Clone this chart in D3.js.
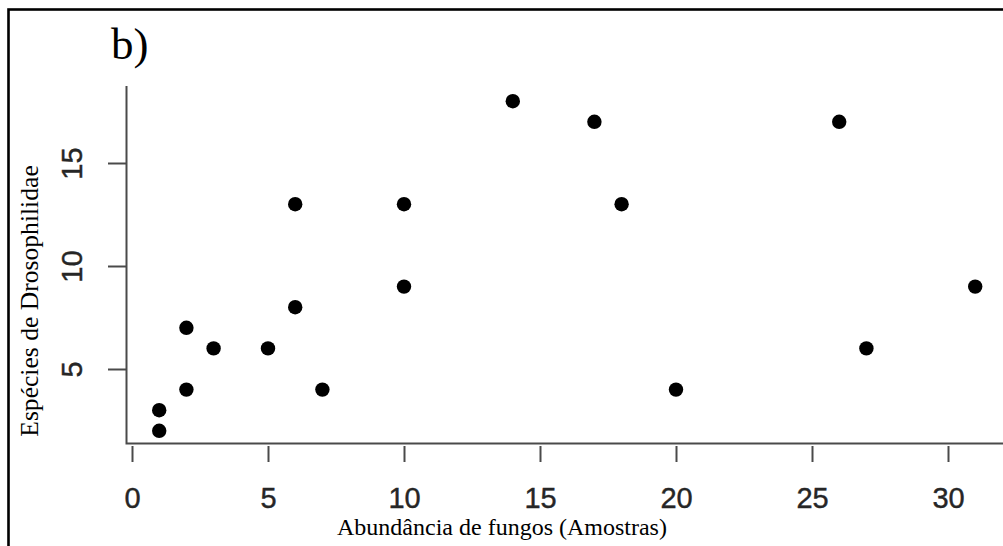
<!DOCTYPE html>
<html>
<head>
<meta charset="utf-8">
<script src="https://cdn.jsdelivr.net/npm/d3@7"></script>
<style>
  html, body { margin: 0; padding: 0; background: #fff; }
  svg { display: block; }
</style>
</head>
<body>
<svg id="chart" width="1003" height="546"></svg>
<script>
// Fungal abundance (samples) vs. number of Drosophilidae species
const fungos   = [1, 1, 2, 2, 3, 5, 6, 6, 7, 10, 10, 14, 17, 18, 20, 26, 27, 31];
const especies = [3, 2, 7, 4, 6, 6, 13, 8, 4, 13, 9, 18, 17, 13, 4, 17, 6, 9];
const xTicks = [0, 5, 10, 15, 20, 25, 30];
const yTicks = [5, 10, 15];
const panelLabel = "b)";
const xTitle = "Abundância de fungos (Amostras)";
const yTitle = "Espécies de Drosophilidae";

const svg = d3.select("#chart");
const x = d3.scaleLinear().domain([0, 30]).range([132, 948]);
const y = d3.scaleLinear().domain([5, 15]).range([369, 163]);

const axisColor = "#4a4a4a";
const serif = "'Liberation Serif', 'Times New Roman', serif";
const sans = "'Liberation Sans', Arial, sans-serif";

// outer frame of the panel
svg.append("rect")
  .attr("x", 8.5).attr("y", 9.5)
  .attr("width", 1100).attr("height", 700)
  .attr("fill", "none").attr("stroke", "#000").attr("stroke-width", 2.6);

// L-shaped plot box
svg.append("path")
  .attr("d", `M126.5,86 V443.5 H1003`)
  .attr("fill", "none").attr("stroke", axisColor).attr("stroke-width", 2);

// x axis: ticks hanging below the box line
const xAxis = d3.axisBottom(x).tickValues(xTicks).tickSize(16).tickPadding(22).tickFormat(d3.format("d"));
const gx = svg.append("g").attr("transform", "translate(0,446)").call(xAxis);
gx.select(".domain").remove();
gx.selectAll(".tick line").attr("stroke", axisColor).attr("stroke-width", 2);
gx.selectAll(".tick text")
  .attr("fill", "#262626").attr("stroke", "#262626").attr("stroke-width", 0.4)
  .attr("font-family", sans).attr("font-size", 29)
  .attr("dy", null).attr("y", 62);

// y axis: ticks and rotated labels
const yAxis = d3.axisLeft(y).tickValues(yTicks).tickSize(18).tickFormat(d3.format("d"));
const gy = svg.append("g").attr("transform", "translate(126,0)").call(yAxis);
gy.select(".domain").remove();
gy.selectAll(".tick line").attr("stroke", axisColor).attr("stroke-width", 2);
gy.selectAll(".tick text")
  .attr("fill", "#262626").attr("stroke", "#262626").attr("stroke-width", 0.4)
  .attr("font-family", sans).attr("font-size", 29)
  .attr("x", null).attr("dy", null)
  .attr("text-anchor", "middle")
  .attr("transform", "translate(-44,0) rotate(-90)");

// points
svg.append("g").selectAll("circle")
  .data(fungos.map((f, i) => [f, especies[i]]))
  .join("circle")
  .attr("cx", d => x(d[0]))
  .attr("cy", d => y(d[1]))
  .attr("r", 7.2)
  .attr("fill", "#000");

// panel label
svg.append("text")
  .attr("x", 111).attr("y", 59)
  .attr("font-family", serif).attr("font-size", 45)
  .attr("fill", "#000")
  .text(panelLabel);

// axis titles
svg.append("text")
  .attr("x", 502).attr("y", 535)
  .attr("text-anchor", "middle")
  .attr("font-family", serif).attr("font-size", 24)
  .attr("fill", "#000")
  .text(xTitle);

svg.append("text")
  .attr("transform", "translate(38,301) rotate(-90)")
  .attr("text-anchor", "middle")
  .attr("font-family", serif).attr("font-size", 25.6)
  .attr("fill", "#000")
  .text(yTitle);
</script>
</body>
</html>
